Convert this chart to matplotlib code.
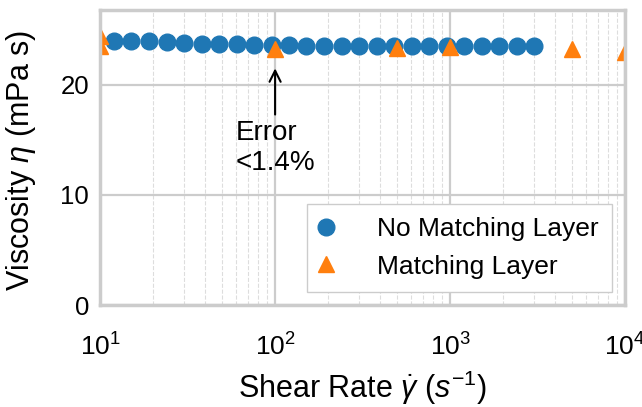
import matplotlib
matplotlib.use("Agg")
import matplotlib.pyplot as plt
from matplotlib.ticker import LogLocator

# Data
shear_no_layer = [12.0, 15.1, 19.0, 24.0, 30.2, 38.0, 47.9, 60.3, 75.9, 95.5,
                  120, 151, 191, 240, 302, 380, 479, 603, 759, 955,
                  1202, 1514, 1905, 2399, 3020]
visc_no_layer = [24.0, 24.0, 23.94, 23.88, 23.79, 23.75, 23.73, 23.7, 23.66, 23.6,
                 23.6, 23.57, 23.55, 23.55, 23.55, 23.54, 23.54, 23.54, 23.55, 23.55,
                 23.55, 23.55, 23.54, 23.54, 23.54]
shear_layer = [10, 10, 100, 500, 1000, 5000, 10000]
visc_layer = [24.4, 23.5, 23.25, 23.33, 23.45, 23.25, 23.0]

plt.rcParams['font.family'] = ['Liberation Sans', 'DejaVu Sans']
plt.rcParams['font.size'] = 19
plt.rcParams['mathtext.fontset'] = 'custom'
plt.rcParams['mathtext.rm'] = 'Liberation Sans'
plt.rcParams['mathtext.it'] = 'Liberation Sans:italic'
plt.rcParams['mathtext.bf'] = 'Liberation Sans:bold'

fig = plt.figure(figsize=(6.42, 4.07), dpi=100)
ax = fig.add_axes([0.156, 0.2506, 0.8175, 0.7248])

ax.plot(shear_no_layer, visc_no_layer, 'o', color='#1f77b4', markersize=12,
        label='No Matching Layer', zorder=2)
ax.plot(shear_layer, visc_layer, '^', color='#ff7f0e', markersize=12,
        label='Matching Layer', zorder=2.1)

ax.set_xscale('log')
ax.set_xlim(10, 10000)
ax.set_ylim(0, 26.8)
ax.set_yticks([0, 10, 20])
ax.xaxis.set_minor_locator(LogLocator(base=10, subs=range(2, 10)))

ax.grid(True, which='major', color='#cccccc', linewidth=1.6, linestyle='-')
ax.grid(True, which='minor', axis='x', color='#dddddd', linewidth=0.8, linestyle='--')
ax.set_axisbelow(True)
for s in ax.spines.values():
    s.set_color('#cccccc')
    s.set_linewidth(2.5)
ax.tick_params(which='both', length=0)
ax.tick_params(axis='y', pad=8, labelsize=18.5)
ax.tick_params(axis='x', pad=20.5, labelsize=19)

ax.set_xlabel(r'Shear Rate $\dot{\gamma}$ $(s^{-1})$', fontsize=22)
ax.set_ylabel(r'Viscosity $\eta$ (mPa s)', fontsize=22)
ax.xaxis.set_label_coords(0.5, -0.215)
ax.yaxis.set_label_coords(-0.118, 0.49)

ax.annotate('Error\n<1.4%', xy=(100, 21.5), xytext=(100, 16.8),
            ha='center', va='top', multialignment='left', fontsize=20,
            arrowprops=dict(arrowstyle='->', color='black', lw=1.5,
                            shrinkA=2, shrinkB=0))

leg = ax.legend(loc='lower right', frameon=True, fancybox=False,
                edgecolor='#cccccc', handlelength=0.4, handletextpad=1.75,
                borderpad=0.5, labelspacing=0.5, fontsize=19, framealpha=1.0)
leg.get_frame().set_linewidth(1.0)
leg.set_zorder(5)

fig.savefig('out.png', dpi=100)
